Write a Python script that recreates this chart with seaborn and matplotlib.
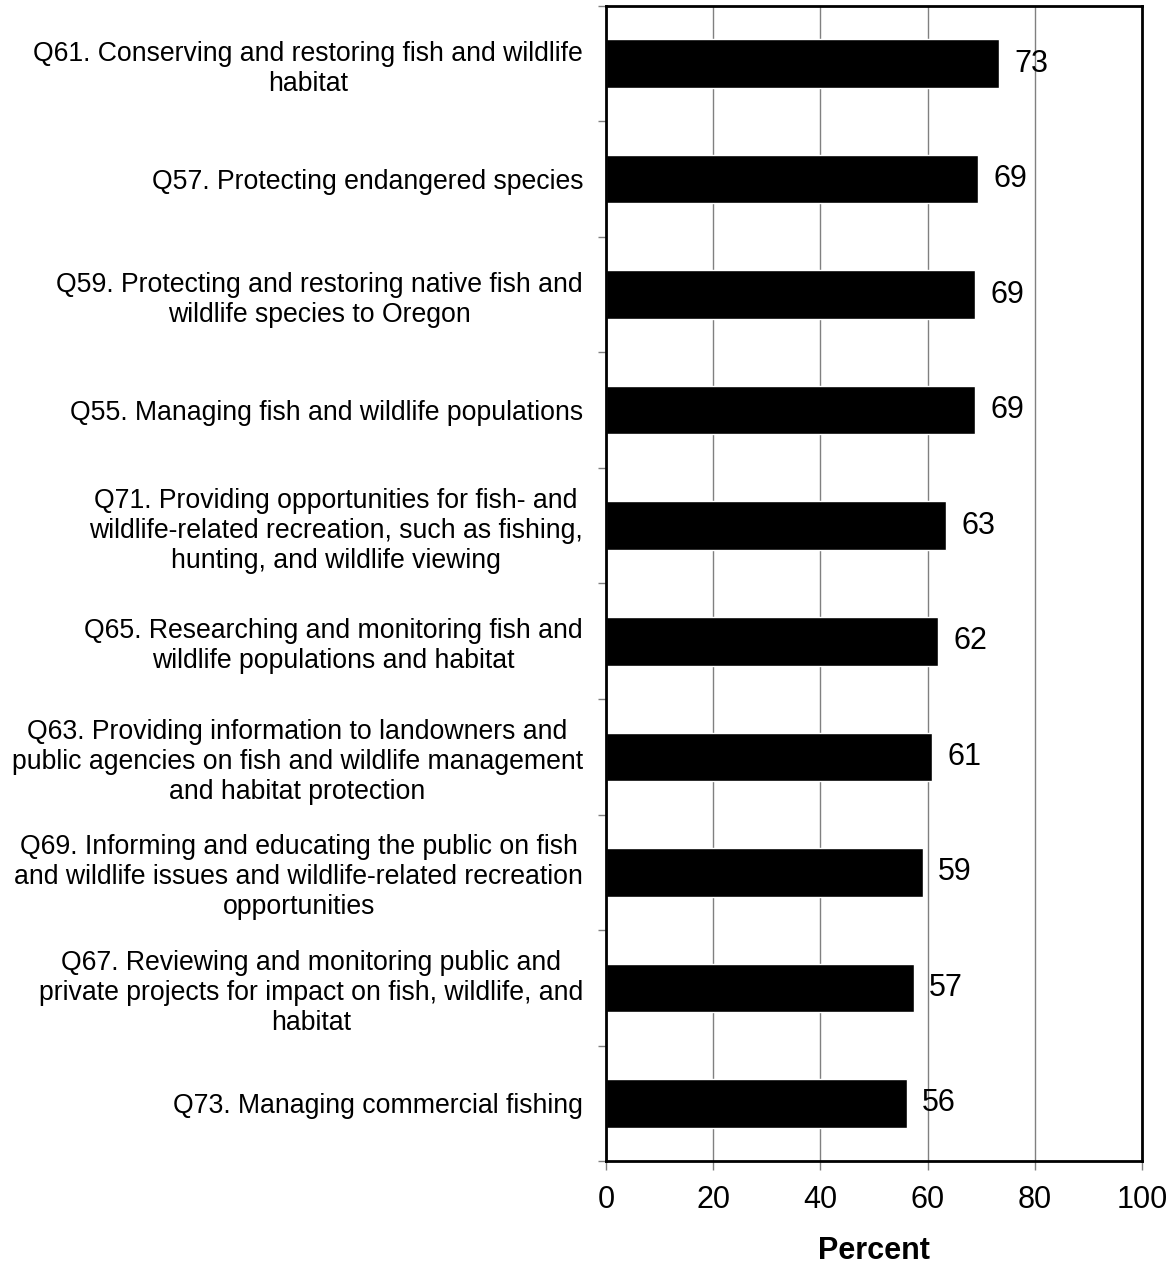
import matplotlib
matplotlib.use("Agg")
import matplotlib.pyplot as plt
import seaborn as sns
import pandas as pd
import numpy as np

# Survey items (top to bottom) and percent rating
questions = [
    "Q61. Conserving and restoring fish and wildlife\nhabitat",
    "Q57. Protecting endangered species",
    "Q59. Protecting and restoring native fish and\nwildlife species to Oregon",
    "Q55. Managing fish and wildlife populations",
    "Q71. Providing opportunities for fish- and\nwildlife-related recreation, such as fishing,\nhunting, and wildlife viewing",
    "Q65. Researching and monitoring fish and\nwildlife populations and habitat",
    "Q63. Providing information to landowners and\npublic agencies on fish and wildlife management\nand habitat protection",
    "Q69. Informing and educating the public on fish\nand wildlife issues and wildlife-related recreation\nopportunities",
    "Q67. Reviewing and monitoring public and\nprivate projects for impact on fish, wildlife, and\nhabitat",
    "Q73. Managing commercial fishing",
]
percent = [73.4, 69.4, 68.9, 68.9, 63.4, 62.0, 60.8, 59.1, 57.4, 56.1]
x_ticks = [0, 20, 40, 60, 80, 100]

sns.set_style("white")
plt.rcParams['font.family'] = ['Liberation Sans', 'DejaVu Sans']
plt.rcParams['text.color'] = 'black'
plt.rcParams['axes.labelcolor'] = 'black'
plt.rcParams['xtick.labelcolor'] = 'black'
plt.rcParams['ytick.labelcolor'] = 'black'

df = pd.DataFrame({'question': questions, 'percent': percent})

fig = plt.figure(figsize=(11.73, 12.66), dpi=100)
ax = fig.add_axes([0.5166, 0.0829, 0.4570, 0.9124])

sns.barplot(data=df, y='question', x='percent', orient='h', color='black',
            width=0.42, saturation=1, ax=ax)

# value labels
for c in ax.containers:
    ax.bar_label(c, fmt='%.0f', padding=11, fontsize=22, color='black')

ax.set_xlim(0, 100)
ax.set_ylim(len(questions) - 0.5, -0.5)
ax.set_xticks(x_ticks)
ax.tick_params(axis='x', labelsize=22, length=6.5, width=1, color='#808080',
               direction='out', pad=11, bottom=True)

# category labels, ticks at category boundaries
ax.set_yticks(range(len(questions)))
ax.set_yticklabels(questions, fontsize=19.2, ha='right', multialignment='center',
                   linespacing=1.2)
ax.tick_params(axis='y', which='major', length=0, pad=16.5)
ax.set_yticks(np.arange(-0.5, len(questions), 1.0), minor=True)
ax.tick_params(axis='y', which='minor', left=True, length=6, width=1, color='#808080')

ax.xaxis.grid(True, color='#808080', linewidth=1)
ax.yaxis.grid(False)
ax.set_axisbelow(True)

for s in ax.spines.values():
    s.set_visible(True)
    s.set_color('black')
    s.set_linewidth(2)

ax.set_ylabel('')
ax.set_xlabel('Percent', fontsize=22, fontweight='bold', labelpad=15)

fig.savefig('out.png', dpi=100)
